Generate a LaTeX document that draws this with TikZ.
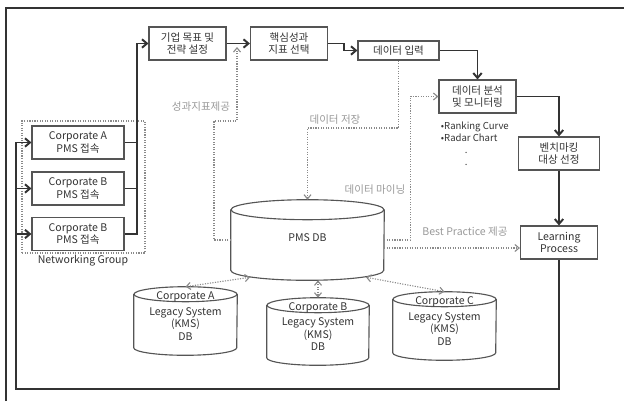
\documentclass[tikz,border=0pt]{standalone}
\usepackage{fontspec}
\setmainfont{Noto Sans CJK KR}
\usetikzlibrary{arrows.meta}
\definecolor{boxline}{HTML}{555555}
\definecolor{flowline}{HTML}{333333}
\definecolor{txtgray}{HTML}{333333}
\definecolor{lblgray}{HTML}{999999}
\definecolor{dotgray}{HTML}{8A8A8A}
% outline of a standing database drum round node #1 (radii #2, #3 in px)
\newcommand{\drawdb}[3]{%
  \draw [dbline] ([shift={(0,#3)}]#1.north west) -- ([shift={(0,-#3)}]#1.south west)
    arc [start angle=180, end angle=360, x radius={#2*0.025cm}, y radius={#3*0.025cm}]
    -- ([shift={(0,#3)}]#1.north east);
  \draw [dbline] ([shift={(0,#3)}]#1.north)
    ellipse [x radius={#2*0.025cm}, y radius={#3*0.025cm}];}
\begin{document}
\begin{tikzpicture}[x=0.025cm, y=-0.025cm,
    every node/.style = {font=\fontsize{7.5}{9}\selectfont, text=txtgray},
    stagebox/.style = {draw=boxline, line width=.8pt, align=center,
                       minimum width=1.925cm, minimum height=.825cm, inner sep=1pt},
    corpbox/.style = {stagebox, minimum width=2.3cm},
    dbnode/.style = {inner sep=0pt},
    dbline/.style = {draw=boxline, line width=.8pt},
    lbl/.style = {text=lblgray},
    thk/.style = {draw=flowline, line width=1.4pt,
                  -{Straight Barb[length=3.5pt, width=6pt]}},
    thkline/.style = {draw=flowline, line width=1.4pt},
    dotarr/.style = {draw=dotgray, densely dotted, line width=.8pt,
                     -{Straight Barb[length=3pt, width=5pt]}},
    dotdbl/.style = {draw=dotgray, densely dotted, line width=.8pt,
                     {Straight Barb[length=3pt, width=5pt]}-{Straight Barb[length=3pt, width=5pt]}}]
  \useasboundingbox (0,0) rectangle (624,401);
  % outer frame
  \draw [draw=flowline, line width=1.1pt] (6,401) -- (6,8) -- (624,8);

  % stages
  \node [stagebox] (goal) at (187.5,43.5) {기업 목표 및\\전략 설정};
  \node [stagebox] (kpi) at (289,43.5) {핵심성과\\지표 선택};
  \node [stagebox, minimum width=2.025cm, minimum height=.475cm] (input)
    at (398.5,50.5) {데이터 입력};
  \node [stagebox] (analysis) at (477.5,96.5) {데이터 분석\\및 모니터링};
  \node [stagebox, minimum width=2.025cm] (bench) at (559,153.5) {벤치마킹\\대상 선정};
  \node [stagebox] (learn) at (559,242.5) {Learning\\Process};
  \node [anchor=north west, align=left, font=\fontsize{6.8}{8.5}\selectfont]
    (charts) at (436,117) {•Ranking Curve\\•Radar Chart\\\hspace*{17pt}.\\\hspace*{17pt}.};

  % networking group
  \node [draw=dotgray, densely dotted, line width=.8pt, minimum width=3.075cm,
         minimum height=3.3cm] (netgrp) at (83.5,187) {};
  \node [corpbox] (corpA) at (78,142.5) {Corporate A\\PMS 접속};
  \node [corpbox] (corpB) at (78,188.5) {Corporate B\\PMS 접속};
  \node [corpbox] (corpBb) at (78,234) {Corporate B\\PMS 접속};
  \node (netlbl) at (83,261) {Networking Group};

  % databases
  \node [dbnode, minimum width=3.825cm, minimum height=2cm] (pmsdb) at (307.5,240) {};
  \drawdb{pmsdb}{76.5}{10}
  \node (pmslbl) at (307.5,238) {PMS DB};
  \node [dbnode, minimum width=2.575cm, minimum height=1.7cm] (legA) at (185.5,321) {};
  \drawdb{legA}{51.5}{7.5}
  \node [align=center] (legAtxt) at (185.5,316)
    {Corporate A\\[2pt]Legacy System\\(KMS)\\DB};
  \node [dbnode, minimum width=2.55cm, minimum height=1.675cm] (legB) at (318,331.5) {};
  \drawdb{legB}{51}{7.5}
  \node [align=center] (legBtxt) at (318,326.5)
    {Corporate B\\[2pt]Legacy System\\(KMS)\\DB};
  \node [dbnode, minimum width=2.575cm, minimum height=1.7cm] (legC) at (444.5,326) {};
  \drawdb{legC}{51.5}{7.5}
  \node [align=center] (legCtxt) at (444.5,321)
    {Corporate C\\[2pt]Legacy System\\(KMS)\\DB};

  % main flow
  \draw [thk] (goal) -- (kpi);
  \draw [thk] (kpi.east) -- ++(16,0) |- (input.west);
  \draw [thk] (input.east) -| (analysis.north);
  \draw [thk] (analysis.east) -| (bench.north);
  \draw [thk] (bench) -- (learn);
  \coordinate (loopbl) at (16,389);
  \draw [thk] (learn.south) |- (loopbl) |- (corpA.west);
  \draw [thk] (loopbl |- corpB.west) -- (corpB.west);
  \draw [thk] (loopbl |- corpBb.west) -- (corpBb.west);
  \draw [thk] (corpBb.east) -- ++(12,0) |- (goal.west);
  \draw [thkline] (corpA.east) -- ++(12,0);
  \draw [thkline] (corpB.east) -- ++(12,0);

  % data flows
  \coordinate (perfup) at (237,47);
  \draw [dotarr] (pmsdb.west) -| (214,121) -| (perfup);
  \node [lbl] (perflbl) at (201,107) {성과지표제공};
  \draw [dotarr] (input.south) |- (307.5,128) -- (pmsdb.north);
  \node [lbl] (storelbl) at (335,120) {데이터 저장};
  \draw [dotarr] (pmsdb.east) -- ++(26,0) |- (analysis.west);
  \node [lbl] (minelbl) at (375,190) {데이터 마이닝};
  \coordinate (bestpr) at (450,248);
  \draw [dotarr] (pmsdb.east |- bestpr) -- (learn.west |- bestpr);
  \node [lbl] (bestlbl) at (465,232) {Best Practice 제공};
  \draw [dotdbl] ([shift={(-57.5,-3)}]pmsdb.south) -- (legA.north);
  \draw [dotdbl] (legB.north |- pmsdb.south) -- (legB.north);
  \draw [dotdbl] ([shift={(58.5,-3)}]pmsdb.south) -- (legC.north);
\end{tikzpicture}
\end{document}
